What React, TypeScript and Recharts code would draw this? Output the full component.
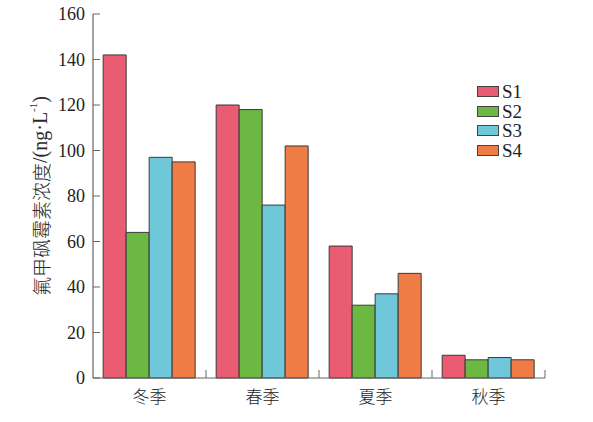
import { BarChart, Bar, XAxis, YAxis, Legend, Label } from "recharts";

const SEASONS = ["冬季", "春季", "夏季", "秋季"];
const S1 = [142, 120, 58, 10];
const S2 = [64, 118, 32, 8];
const S3 = [97, 76, 37, 9];
const S4 = [95, 102, 46, 8];
const Y_TICKS = [0, 20, 40, 60, 80, 100, 120, 140, 160];

const SERIES = [
  { key: "S1", color: "#e95c72" },
  { key: "S2", color: "#6cb843" },
  { key: "S3", color: "#6ec8da" },
  { key: "S4", color: "#ee7c44" },
];

const data = SEASONS.map((name, i) => ({
  name,
  S1: S1[i],
  S2: S2[i],
  S3: S3[i],
  S4: S4[i],
}));

const AXIS = "#666";
const TEXT = "#222";
const SERIF = "'Liberation Serif', 'DejaVu Serif', serif";
const CJK = "'Noto Sans CJK SC', sans-serif";

function XTick(props: any) {
  const { x, y, payload } = props;
  const off = payload?.offset ?? 0;
  const bx = payload.coordinate + off;
  const ay = y - 8;
  return (
    <g>
      <line x1={bx} x2={bx} y1={ay} y2={ay - 8} stroke={AXIS} strokeWidth={1} />
      <text x={x} y={ay + 25} textAnchor="middle" fontSize={17} fill={TEXT} fontFamily={CJK} fontWeight={300}>
        {payload.value}
      </text>
    </g>
  );
}

function YTick(props: any) {
  const { x, y, payload } = props;
  return (
    <g>
      <line x1={x + 8} x2={x + 15} y1={y} y2={y} stroke={AXIS} strokeWidth={1} />
      <text x={x} y={y + 6} textAnchor="end" fontSize={18} fill={TEXT} fontFamily={SERIF}>
        {payload.value}
      </text>
    </g>
  );
}

function YLabel(props: any) {
  const vb = props.viewBox;
  const cx = 40;
  const cy = vb.y + vb.height / 2;
  return (
    <text
      x={cx}
      y={cy}
      transform={`rotate(-90, ${cx}, ${cy})`}
      textAnchor="middle"
      dominantBaseline="central"
      fontSize={19}
      fill="#2a2a2a"
    >
      <tspan fontFamily={CJK} fontWeight={300} fill="#2a2a2a">氟甲砜霉素浓度</tspan>
      <tspan fontFamily={SERIF} fontSize={20} fill="#2a2a2a">/(ng·L</tspan>
      <tspan fontFamily={SERIF} fontSize={11} dy={-7} fill="#2a2a2a">-1</tspan>
      <tspan fontFamily={SERIF} fontSize={20} dy={7} fill="#2a2a2a">)</tspan>
    </text>
  );
}

function LegendBox({ payload }: any) {
  return (
    <div>
      {(payload ?? []).map((p: any) => (
        <div key={p.value} style={{ display: "flex", alignItems: "center", height: 19.5 }}>
          <div
            style={{
              width: 20,
              height: 9,
              background: p.color,
              border: "1px solid #444",
              marginRight: 3,
            }}
          />
          <span style={{ fontFamily: SERIF, fontSize: 19, color: TEXT, lineHeight: "19px" }}>
            {p.value}
          </span>
        </div>
      ))}
    </div>
  );
}

export default function App() {
  return (
    <div style={{ position: "absolute", left: 0, top: 0, background: "#fff" }}>
      <BarChart
        width={593}
        height={422}
        data={data}
        margin={{ top: 14, right: 48, bottom: 14, left: 0 }}
        barCategoryGap="9%"
        barGap={0}
      >
        <XAxis
          dataKey="name"
          height={30}
          axisLine={{ stroke: AXIS, strokeWidth: 1.2 }}
          tickLine={false}
          tick={<XTick />}
          interval={0}
        />
        <YAxis
          width={93}
          domain={[0, 160]}
          ticks={Y_TICKS}
          axisLine={{ stroke: AXIS, strokeWidth: 1.2 }}
          tickLine={false}
          tickSize={0}
          tickMargin={8}
          tick={<YTick />}
          interval={0}
        >
          <Label content={<YLabel />} />
        </YAxis>
        <Legend
          layout="vertical"
          verticalAlign="middle"
          align="center"
          content={<LegendBox />}
          wrapperStyle={{ left: 477, top: 82, width: 60, right: "auto", bottom: "auto" }}
        />
        {SERIES.map((s) => (
          <Bar
            key={s.key}
            dataKey={s.key}
            fill={s.color}
            stroke="#3a3a3a"
            strokeWidth={1}
            isAnimationActive={false}
          />
        ))}
      </BarChart>
    </div>
  );
}
